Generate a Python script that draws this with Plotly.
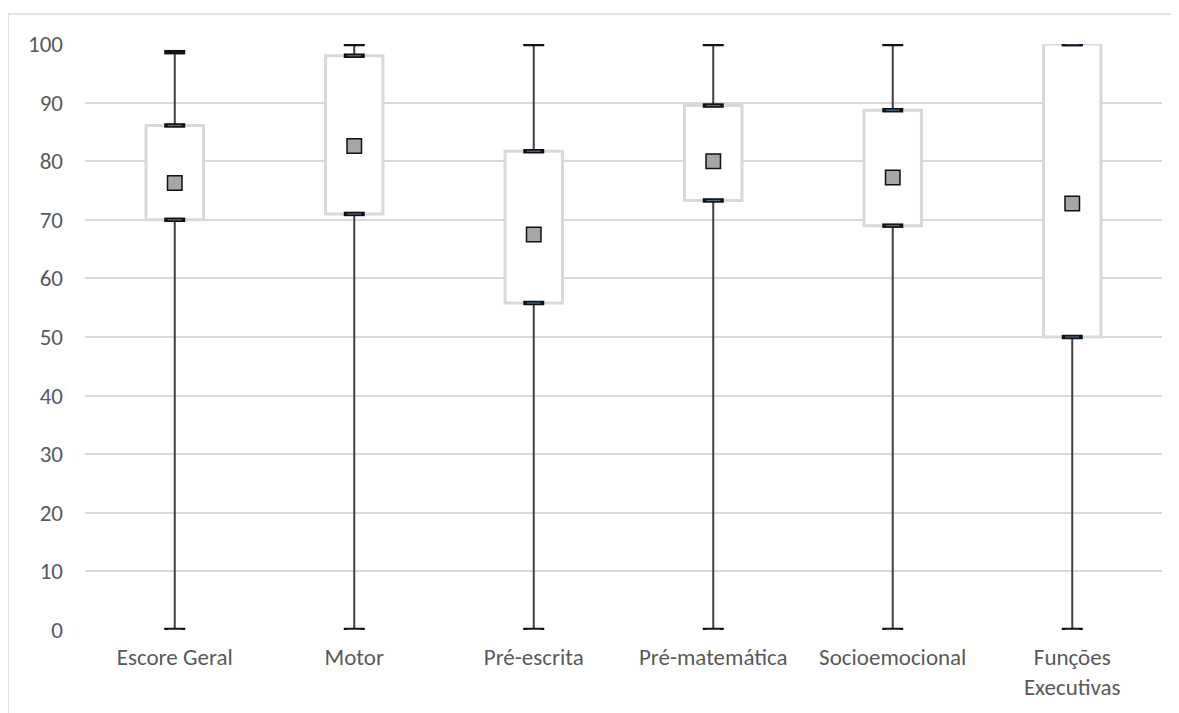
import plotly.graph_objects as go

categories = ["Escore Geral", "Motor", "Pré-escrita", "Pré-matemática", "Socioemocional", "Funções<br>Executivas"]
minimum = [0, 0, 0, 0, 0, 0]
q1 = [70.0, 71.0, 55.8, 73.3, 69.0, 50.0]
q3 = [86.1, 98.0, 81.7, 89.5, 88.7, 100.0]
maximum = [98.6, 100, 100, 100, 100, 100]
mean = [76.3, 82.6, 67.5, 80.0, 77.2, 72.8]

FONT = "Carlito, Lato, 'Liberation Sans', sans-serif"
TXT = "#595959"
FS = 23

fig = go.Figure()

# boxes (Q1..Q3)
fig.add_trace(go.Bar(
    x=categories, base=q1, y=[b - a for a, b in zip(q1, q3)],
    width=0.32, marker=dict(color="white", line=dict(color="#d9d9d9", width=3)),
    showlegend=False, hoverinfo="skip"))

# whiskers
wx, wy = [], []
for c, lo, a, b, hi in zip(categories, minimum, q1, q3, maximum):
    wx += [c, c, None, c, c, None]
    wy += [lo, a, None, b, hi, None]
fig.add_trace(go.Scatter(x=wx, y=wy, mode="lines", line=dict(color="#404040", width=2),
                         showlegend=False, hoverinfo="skip"))

def caps(vals, inner):
    fig.add_trace(go.Scatter(x=categories, y=vals, mode="markers",
                             marker=dict(symbol="line-ew", size=15, line=dict(color="#111111", width=4.5)),
                             showlegend=False, hoverinfo="skip"))
    if inner:
        fig.add_trace(go.Scatter(x=categories, y=vals, mode="markers",
                                 marker=dict(symbol="line-ew", size=10, line=dict(color=inner, width=1.2)),
                                 showlegend=False, hoverinfo="skip"))

caps(maximum, None)
caps(q3, "#4a6e9a")
caps(q1, "#4a6e9a")
caps(minimum, "#a08428")

# mean markers
fig.add_trace(go.Scatter(x=categories, y=mean, mode="markers",
                         marker=dict(symbol="square", size=14.5, color="#a6a6a6",
                                     line=dict(color="#111111", width=1.5)),
                         showlegend=False, hoverinfo="skip"))

fig.update_layout(
    width=1179, height=713,
    margin=dict(l=77, r=25, t=36, b=91),
    paper_bgcolor="white", plot_bgcolor="white",
    font=dict(family=FONT, size=FS, color=TXT),
    barmode="overlay",
    shapes=[dict(type="rect", xref="paper", yref="paper", x0=-0.0715, y0=-0.2, x1=1.1, y1=1.0512,
                 line=dict(color="#d9d9d9", width=1.5), fillcolor="rgba(0,0,0,0)", layer="below")],
)
fig.update_yaxes(range=[0, 100], dtick=10, showgrid=True, gridcolor="#d9d9d9", gridwidth=1.5,
                 zeroline=False, showline=False, ticks="", ticklabelstandoff=21,
                 tickfont=dict(family=FONT, size=FS, color=TXT))
fig.update_xaxes(showgrid=False, zeroline=False, showline=False, ticks="",
                 tickfont=dict(family=FONT, size=FS, color=TXT), ticklabelstandoff=11)

fig.write_html("out.html")
